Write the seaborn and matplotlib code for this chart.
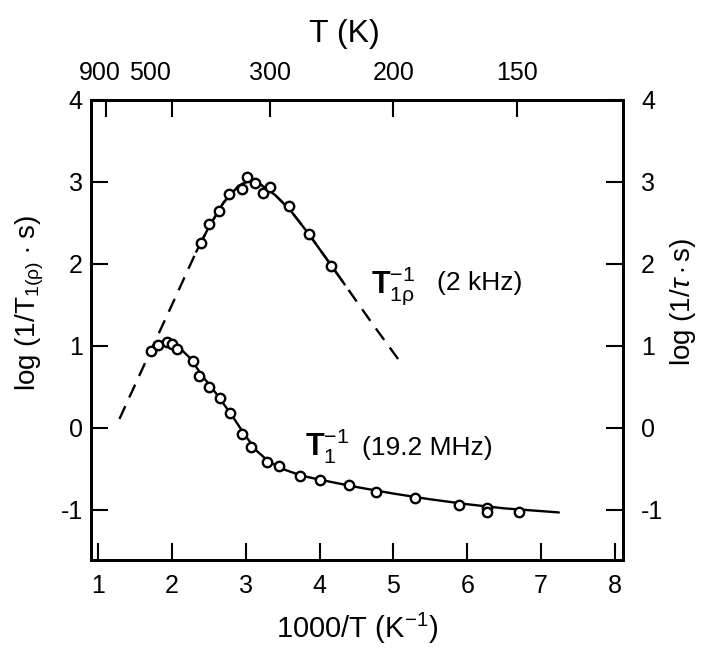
import matplotlib
matplotlib.use("Agg")
import matplotlib.pyplot as plt
import matplotlib.transforms as mtransforms
import seaborn as sns

# T1rho^-1 (2 kHz) measured points
rho_x = [2.39, 2.50, 2.64, 2.77, 2.95, 3.02, 3.13, 3.23, 3.33, 3.58, 3.85, 4.16]
rho_y = [2.26, 2.49, 2.65, 2.85, 2.92, 3.06, 2.99, 2.87, 2.94, 2.71, 2.37, 1.98]

# T1rho fit curve (dashed outside the measured range)
rho_fit_x = [1.29, 1.60, 2.00, 2.33, 2.50, 2.70, 2.90, 3.05, 3.20, 3.40, 3.60, 3.85, 4.16, 4.34, 4.70, 5.08]
rho_fit_y = [0.11, 0.72, 1.50, 2.15, 2.45, 2.75, 2.95, 3.02, 2.97, 2.84, 2.66, 2.37, 1.98, 1.75, 1.29, 0.82]
rho_solid = (2.33, 4.34)

# T1^-1 (19.2 MHz) measured points
t1_x = [1.72, 1.81, 1.93, 2.00, 2.07, 2.29, 2.37, 2.50, 2.65, 2.79, 2.95, 3.07,
        3.29, 3.45, 3.73, 4.01, 4.40, 4.77, 5.29, 5.89, 6.26, 6.26, 6.70]
t1_y = [0.94, 1.01, 1.05, 1.03, 0.96, 0.82, 0.64, 0.50, 0.37, 0.18, -0.07, -0.23,
        -0.41, -0.46, -0.58, -0.63, -0.70, -0.78, -0.85, -0.94, -0.97, -1.03, -1.02]

# T1 fit curve
t1_fit_x = [1.72, 1.85, 1.97, 2.10, 2.25, 2.40, 2.60, 2.80, 3.00, 3.15, 3.30, 3.50,
            3.75, 4.00, 4.50, 5.00, 5.50, 6.00, 6.50, 7.24]
t1_fit_y = [0.94, 1.03, 1.04, 0.98, 0.85, 0.65, 0.42, 0.17, -0.10, -0.28, -0.40, -0.50,
            -0.58, -0.63, -0.72, -0.80, -0.87, -0.93, -0.98, -1.03]

x_ticks = [1, 2, 3, 4, 5, 6, 7, 8]
y_ticks = [-1, 0, 1, 2, 3, 4]
temp_ticks = [900, 500, 300, 200, 150]
temp_shift_px = [-6, -22, 0, 0, 0]

sns.set_style("ticks")
plt.rcParams["font.family"] = ["Liberation Sans", "DejaVu Sans"]
plt.rcParams["mathtext.fontset"] = "custom"
plt.rcParams["mathtext.rm"] = "Liberation Sans"
plt.rcParams["mathtext.it"] = "Liberation Sans:italic"
plt.rcParams["mathtext.bf"] = "Liberation Sans:bold"
plt.rcParams["axes.unicode_minus"] = False
for key in ["text.color", "axes.labelcolor", "xtick.color", "ytick.color", "axes.edgecolor"]:
    plt.rcParams[key] = "black"

fig = plt.figure(figsize=(7.02, 6.5), dpi=100)
ax = fig.add_axes([91 / 702, 90 / 650, 532 / 702, 460 / 650])

ls_dash = (0, (6, 4))
sns.lineplot(x=rho_fit_x, y=rho_fit_y, ax=ax, color="k", lw=1.7,
             linestyle=ls_dash, estimator=None, sort=False)
solid_x = [x for x in rho_fit_x if rho_solid[0] <= x <= rho_solid[1]]
solid_y = [y for x, y in zip(rho_fit_x, rho_fit_y) if rho_solid[0] <= x <= rho_solid[1]]
sns.lineplot(x=solid_x, y=solid_y, ax=ax, color="k", lw=1.7, estimator=None, sort=False)
sns.lineplot(x=t1_fit_x, y=t1_fit_y, ax=ax, color="k", lw=1.7, estimator=None, sort=False)

for xs, ys in [(rho_x, rho_y), (t1_x, t1_y)]:
    sns.scatterplot(x=xs, y=ys, ax=ax, marker="o", s=46, facecolor="white",
                    edgecolor="k", linewidth=1.7, zorder=3)

xlim = (0.905, 8.108)
ylim = (-1.61, 4.0)
ax.set_xlim(*xlim)
ax.set_ylim(*ylim)
ax.set_xticks(x_ticks)
ax.set_yticks(y_ticks)
ax.tick_params(axis="x", direction="in", length=12, width=1.5, labelsize=18, pad=10)
ax.tick_params(axis="y", direction="in", length=12, width=1.5, labelsize=18, pad=6)
ax.set_xlabel(r"1000/T (K$^{-1}$)", fontsize=21)
ax.set_ylabel(r"log (1/T$_{\mathrm{1(\rho)}}$ $\cdot$ s)", fontsize=20)
ax.xaxis.set_label_coords(0.5, -0.11)
ax.yaxis.set_label_coords(-0.085, 0.56)

ax2 = ax.twinx()
ax2.set_ylim(*ylim)
ax2.set_yticks(y_ticks)
ax2.tick_params(axis="y", direction="in", length=12, width=1.5, labelsize=18, pad=13)
ax2.set_ylabel(r"log (1/$\tau\cdot$s)", fontsize=20)
ax2.yaxis.set_label_coords(1.085, 0.56)

ax3 = ax.twiny()
ax3.set_xlim(*xlim)
ax3.set_xticks([1000 / t for t in temp_ticks])
ax3.set_xticklabels([str(t) for t in temp_ticks])
ax3.tick_params(axis="x", direction="in", length=12, width=1.5, labelsize=18, pad=11)
ax3.set_xlabel("T (K)", fontsize=23)
ax3.xaxis.set_label_coords(0.477, 1.125)

for a in (ax, ax2, ax3):
    for sp in a.spines.values():
        sp.set_linewidth(2.0)
        sp.set_color("k")

ax.text(4.70, 1.65, r"$\mathbf{T}_{\mathrm{1\rho}}^{\mathrm{-1}}$", fontsize=22)
ax.text(5.59, 1.68, "(2 kHz)", fontsize=19)
ax.text(3.80, -0.33, r"$\mathbf{T}_{\mathrm{1}}^{\mathrm{-1}}$", fontsize=22)
ax.text(4.58, -0.33, "(19.2 MHz)", fontsize=19)

for lab, dx in zip(ax3.get_xticklabels(), temp_shift_px):
    lab.set_transform(lab.get_transform() + mtransforms.Affine2D().translate(dx, 0))

fig.savefig("out.png", dpi=100)
